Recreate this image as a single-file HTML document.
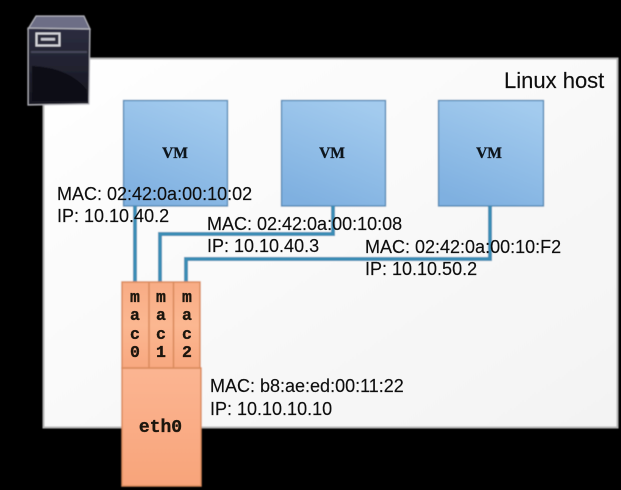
<!DOCTYPE html>
<html>
<head>
<meta charset="utf-8">
<style>
html,body{margin:0;padding:0;background:#000;width:621px;height:490px;overflow:hidden}
svg{display:block}
.t{font-family:"Liberation Sans",Arial,sans-serif;font-size:18px;fill:#111;stroke:#111;stroke-width:0.15px}
.m{font-family:"Liberation Mono",monospace;font-weight:bold;font-size:16.5px;fill:#1f1510;stroke:#1f1510;stroke-width:0.35px;text-anchor:middle}
.v{font-family:"Liberation Serif",serif;font-weight:bold;font-size:15.5px;fill:#0e151e;stroke:#0e151e;stroke-width:0.3px;text-anchor:middle}
</style>
</head>
<body>
<svg width="621" height="490" viewBox="0 0 621 490" xmlns="http://www.w3.org/2000/svg">
<defs>
<filter id="soft" x="-2%" y="-2%" width="104%" height="104%">
<feGaussianBlur stdDeviation="0.4"/>
</filter>
<filter id="softer" x="-2%" y="-2%" width="104%" height="104%">
<feGaussianBlur stdDeviation="0.2"/>
</filter>
<linearGradient id="vm" x1="0.7" y1="0" x2="0.3" y2="1">
<stop offset="0" stop-color="#a3cbee"/><stop offset="1" stop-color="#7fb0e0"/>
</linearGradient>
<linearGradient id="or" x1="0" y1="0" x2="0" y2="1">
<stop offset="0" stop-color="#f8ac85"/><stop offset="0.5" stop-color="#fbb791"/><stop offset="1" stop-color="#f8a880"/>
</linearGradient>
<linearGradient id="or2" x1="0" y1="0" x2="0" y2="1">
<stop offset="0" stop-color="#fbb592"/><stop offset="1" stop-color="#f8a47a"/>
</linearGradient>
<linearGradient id="bg" x1="0" y1="0" x2="1" y2="1">
<stop offset="0" stop-color="#ffffff"/><stop offset="1" stop-color="#f3f3f3"/>
</linearGradient>
<linearGradient id="srv" x1="0" y1="0" x2="0" y2="1">
<stop offset="0" stop-color="#2c2d40"/><stop offset="1" stop-color="#16161f"/>
</linearGradient>
</defs>

<rect x="0" y="0" width="621" height="490" fill="#000"/>

<g filter="url(#soft)">
<!-- host -->
<rect x="43.5" y="58.5" width="574" height="369" fill="url(#bg)" stroke="#b4b4b4" stroke-width="2"/>

<!-- server -->
<polygon points="36,16 84,16 90,29 28,29" fill="#6d6e86" stroke="#b5b5bd" stroke-width="1.2"/>
<polygon points="28,28 90,29 89,104 28,105" fill="url(#srv)" stroke="#b5b5bd" stroke-width="1.2"/>
<rect x="31" y="51" width="56" height="2" fill="#45465a"/>
<path d="M32 66 Q70 68 87 90 L87 101 L32 101 Z" fill="#101016"/>
<rect x="36.5" y="33.5" width="23" height="12" fill="#2a2a3a" stroke="#d4d4da" stroke-width="2"/>
<rect x="41" y="38" width="14" height="2.5" fill="#c8c8d0"/>

<!-- VMs -->
<rect x="123.5" y="100.5" width="104" height="105.5" fill="url(#vm)" stroke="#4f86b2" stroke-width="1.3"/>
<rect x="281.5" y="100.5" width="104" height="105.5" fill="url(#vm)" stroke="#4f86b2" stroke-width="1.3"/>
<rect x="438.5" y="100.5" width="105" height="105.5" fill="url(#vm)" stroke="#4f86b2" stroke-width="1.3"/>

<!-- connectors -->
<g fill="none" stroke="#3d8db5" stroke-width="4">
<path d="M135 206 V283"/>
<path d="M160 283 V234 H333 V206"/>
<path d="M186 283 V259 H490 V206"/>
</g>

<!-- eth0 block -->
<rect x="122" y="368" width="79" height="118" fill="url(#or2)" stroke="#d98a5c" stroke-width="1.5"/>
<rect x="122" y="282" width="78" height="86" fill="url(#or)" stroke="#d98a5c" stroke-width="1.5"/>
<path d="M149 282 V368 M173.5 282 V368" stroke="#d98a5c" stroke-width="1.5"/>
</g>

<g filter="url(#softer)">
<text class="v" x="175" y="158">VM</text>
<text class="v" x="332" y="158">VM</text>
<text class="v" x="489" y="158">VM</text>

<text class="m" x="135" y="302">m</text>
<text class="m" x="135" y="320">a</text>
<text class="m" x="135" y="339">c</text>
<text class="m" x="135" y="357">0</text>
<text class="m" x="161" y="302">m</text>
<text class="m" x="161" y="320">a</text>
<text class="m" x="161" y="339">c</text>
<text class="m" x="161" y="357">1</text>
<text class="m" x="187" y="302">m</text>
<text class="m" x="187" y="320">a</text>
<text class="m" x="187" y="339">c</text>
<text class="m" x="187" y="357">2</text>
<text class="m" x="160.5" y="432" style="font-size:18px">eth0</text>

<!-- labels -->
<text class="t" x="504" y="88" style="font-size:22px">Linux host</text>
<text class="t" x="57" y="200">MAC: 02:42:0a:00:10:02</text>
<text class="t" x="57" y="222">IP: 10.10.40.2</text>
<text class="t" x="207" y="230">MAC: 02:42:0a:00:10:08</text>
<text class="t" x="207" y="252">IP: 10.10.40.3</text>
<text class="t" x="365" y="253">MAC: 02:42:0a:00:10:F2</text>
<text class="t" x="365" y="275">IP: 10.10.50.2</text>
<text class="t" x="210" y="392">MAC: b8:ae:ed:00:11:22</text>
<text class="t" x="210" y="415">IP: 10.10.10.10</text>
</g>
</svg>
</body>
</html>
